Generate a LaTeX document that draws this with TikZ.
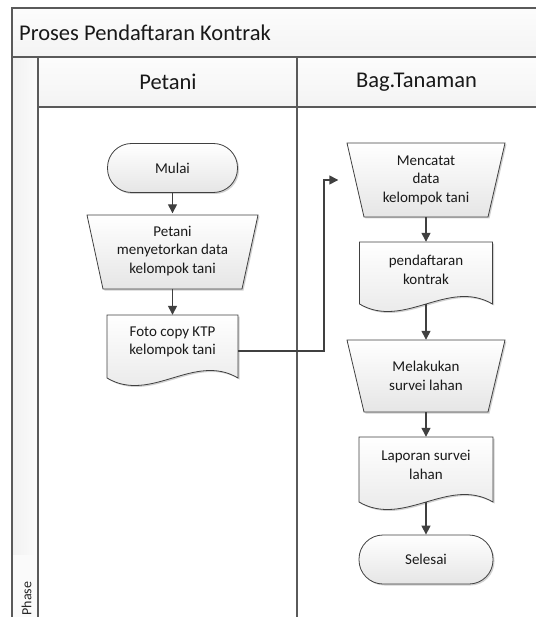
\documentclass[tikz,border=0pt]{standalone}
\usepackage{fontspec}
\setmainfont{Carlito}
\usetikzlibrary{arrows.meta,shadows,backgrounds}
\definecolor{edge}{HTML}{404040}
\definecolor{laneline}{HTML}{5A5A5A}
\begin{document}
\begin{tikzpicture}[x=1pt,y=-1pt,
  shp/.style={draw=edge,line width=0.8pt,top color=white,bottom color=gray!20,
    drop shadow={shadow xshift=1.5pt,shadow yshift=-1.5pt,opacity=0.18,fill=black}},
  lbl/.style={font=\fontsize{15}{18.5}\selectfont,align=center,inner sep=0pt,text=black!90},
  bound/.style={inner sep=0pt,minimum width=#1},
  term/.style={shp,rounded corners=24pt,minimum width=130pt,minimum height=49pt,
    font=\fontsize{15}{18.5}\selectfont,text=black!90},
  head/.style={font=\fontsize{22.5}{25}\selectfont,inner sep=0pt,text=black!90},
  lane/.style={draw=laneline,line width=1.1pt},
  flow/.style={draw=edge,line width=1.4pt,-{Triangle[width=9pt,length=9pt]}},
]
\useasboundingbox (0,0) rectangle (535,617);
\clip (0,0) rectangle (535,617);

% ---- text / bound nodes ----
\node[head,anchor=west] (title) at (19,33) {Proses Pendaftaran Kontrak};
\node[head] (h1) at (168,82) {Petani};
\node[head] (h2) at (416.5,82) {Bag.Tanaman};
\node[font=\fontsize{14}{16}\selectfont,rotate=90,anchor=west,inner sep=0pt,text=black!85] (phase) at (26.5,615.5) {Phase};

\node[term] (mulai) at (172.5,168) {Mulai};
\node[lbl,minimum width=171pt,minimum height=75pt] (p1) at (172.5,251) {Petani\\menyetorkan data\\kelompok tani};
\node[bound=131pt,minimum height=63pt] (foto) at (172.5,346.5) {};
\node[lbl] (fotot) at (172.5,342) {Foto copy KTP\\kelompok tani};

\node[lbl,minimum width=158pt,minimum height=74pt] (m1) at (426,180) {Mencatat\\data\\kelompok tani};
\node[bound=133pt,minimum height=62pt] (pend) at (426,273) {};
\node[lbl] (pendt) at (426,270) {pendaftaran\\kontrak};
\node[lbl,minimum width=158pt,minimum height=72pt] (m2) at (426,376) {Melakukan\\survei lahan};
\node[bound=134pt,minimum height=65pt] (lap) at (426,469.5) {};
\node[lbl] (lapt) at (426,465) {Laporan survei\\lahan};
\node[term,minimum width=134pt] (selesai) at (426,559.5) {Selesai};

\coordinate (bend) at (324,180);

% ---- background: lanes and shapes ----
\begin{pgfonlayer}{background}
  \fill[top color=gray!2,bottom color=gray!9] (12,8) rectangle (545,57);
  \fill[top color=gray!2,bottom color=gray!9] (38,57) rectangle (545,107);
  \fill[left color=gray!11,right color=gray!3] (12,57) rectangle (38,555);
  \fill[gray!4] (12,555) rectangle (38,625);
  \draw[lane] (12,625) -- (12,8) -- (545,8);
  \draw[lane] (12,57) -- (545,57);
  \draw[lane] (38,57) -- (38,625);
  \draw[lane] (38,107) -- (545,107);
  \draw[lane] (297,57) -- (297,625);

  % trapezoids (manual operation)
  \draw[shp] (87,215) -- (258,215) -- (242,289) -- (103,289) -- cycle;
  \draw[shp] (347,143) -- (505,143) -- (488,217) -- (364,217) -- cycle;
  \draw[shp] (347,340) -- (505,340) -- (488,412) -- (364,412) -- cycle;

  % documents
  \draw[shp] (107,378) -- (107,315) -- (238,315) -- (238,378)
     .. controls (194,352) and (151,404) .. (107,378) -- cycle;
  \draw[shp] (359.5,304) -- (359.5,242) -- (492.5,242) -- (492.5,304)
     .. controls (448,278) and (404,330) .. (359.5,304) -- cycle;
  \draw[shp] (359,502) -- (359,437) -- (493,437) -- (493,502)
     .. controls (448,476) and (404,528) .. (359,502) -- cycle;
\end{pgfonlayer}

% ---- connectors ----
\draw[flow] (mulai.south) -- (p1.north);
\draw[flow] (p1.south) -- (foto.north);
\draw[flow,shorten >=8.5pt] ([yshift=-4.5pt]foto.east) -| (bend) -- (m1.west);
\draw[flow] (m1.south) -- (pend.north);
\draw[flow] (pend.south) -- (m2.north);
\draw[flow] (m2.south) -- (lap.north);
\draw[flow] (lap.south) -- (selesai.north);
\end{tikzpicture}
\end{document}
